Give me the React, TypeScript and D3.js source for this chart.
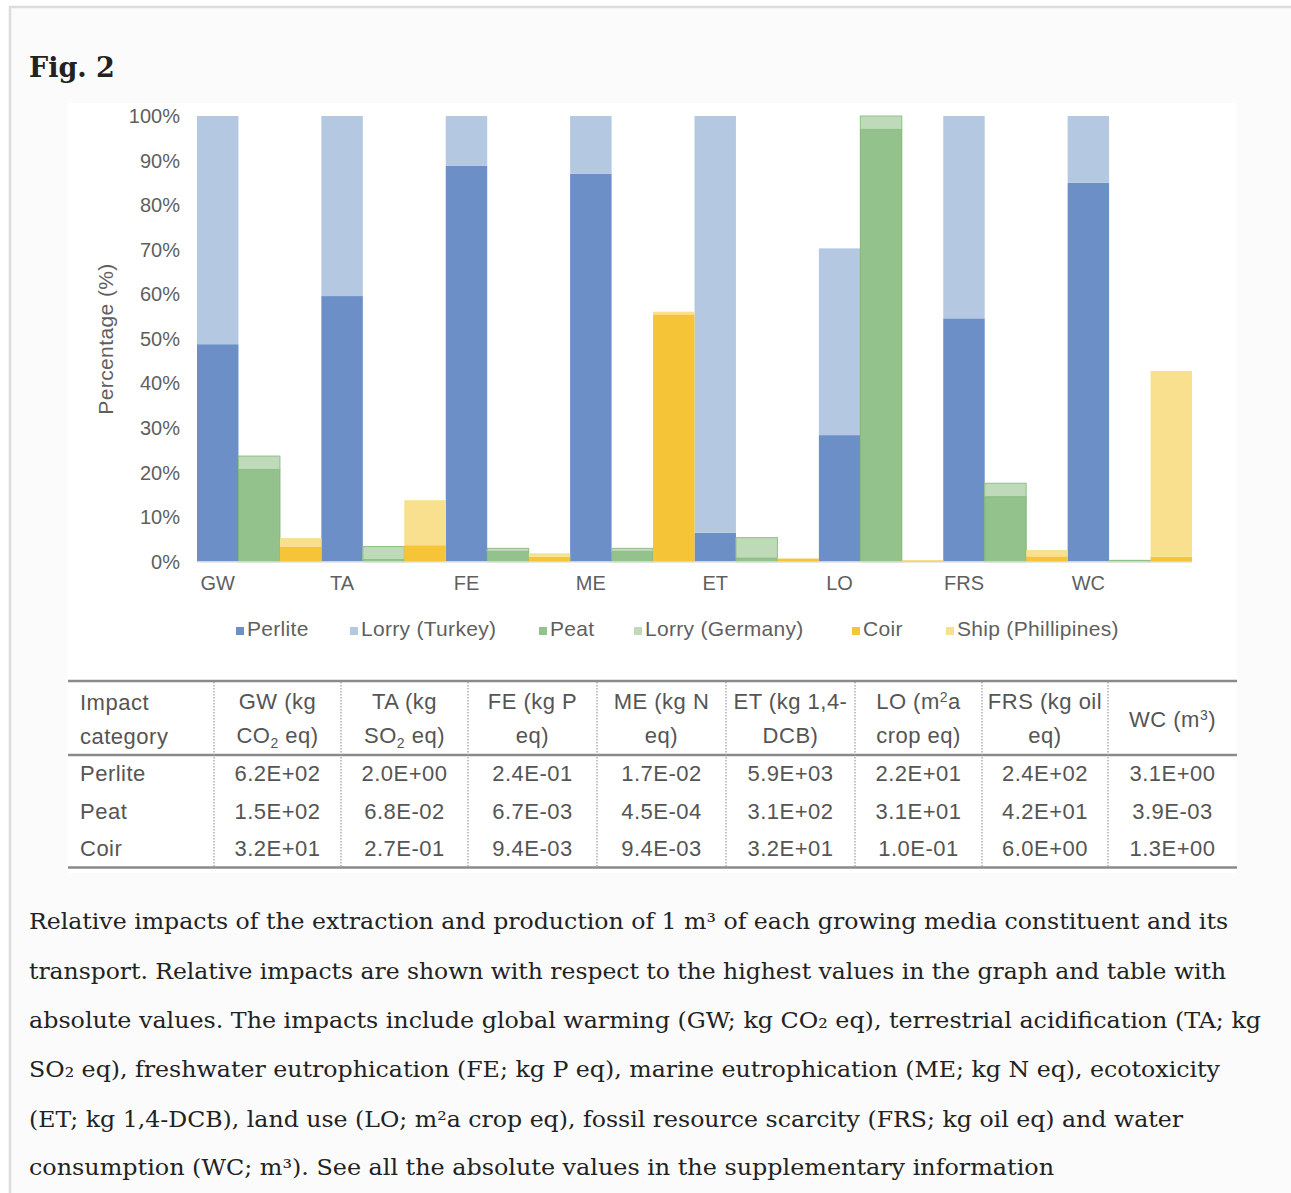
import React, { useEffect, useRef } from "react";
import * as d3 from "d3";

const categories = ["GW", "TA", "FE", "ME", "ET", "LO", "FRS", "WC"];
const seriesNames = ["Perlite", "Lorry (Turkey)", "Peat", "Lorry (Germany)", "Coir", "Ship (Phillipines)"];
const perlite = [48.8, 59.6, 88.8, 87.0, 6.5, 28.4, 54.6, 85.0];
const lorryTurkey = [51.2, 40.4, 11.2, 13.0, 93.5, 41.9, 45.4, 15.0];
const peat = [20.7, 0.5, 2.3, 2.3, 0.8, 97.0, 14.6, 0.2];
const lorryGermany = [3.0, 2.9, 0.7, 0.7, 4.6, 3.0, 3.0, 0.1];
const coir = [3.3, 3.7, 1.1, 55.5, 0.6, 0.3, 1.2, 1.1];
const ship = [2.0, 10.1, 0.8, 0.6, 0.2, 0.1, 1.4, 41.7];
const yTicks = [0, 10, 20, 30, 40, 50, 60, 70, 80, 90, 100];

const tableRows = ["Perlite", "Peat", "Coir"];
const tablePerlite = ["6.2E+02", "2.0E+00", "2.4E-01", "1.7E-02", "5.9E+03", "2.2E+01", "2.4E+02", "3.1E+00"];
const tablePeat = ["1.5E+02", "6.8E-02", "6.7E-03", "4.5E-04", "3.1E+02", "3.1E+01", "4.2E+01", "3.9E-03"];
const tableCoir = ["3.2E+01", "2.7E-01", "9.4E-03", "9.4E-03", "3.2E+01", "1.0E-01", "6.0E+00", "1.3E+00"];

const colors = ["#6b8fc6", "#b5c8e2", "#94c28c", "#bfdab9", "#f6c437", "#f8e08f"];
const strokes = ["none", "none", "#7fb577", "#8fc087", "none", "none"];

export default function App() {
  const ref = useRef<SVGSVGElement>(null);

  useEffect(() => {
    const svg = d3.select(ref.current);
    svg.selectAll("*").remove();
    const W = 1291, H = 1193;

    svg.append("rect").attr("x", 0).attr("y", 0).attr("width", W).attr("height", H).attr("fill", "#ffffff");
    svg.append("rect").attr("x", 10).attr("y", 7).attr("width", W + 10).attr("height", H + 10)
      .attr("fill", "#fbfbfb").attr("stroke", "#dcdcdc").attr("stroke-width", 2.5);
    svg.append("rect").attr("x", 67).attr("y", 103).attr("width", 1170).attr("height", 770).attr("fill", "#ffffff");

    svg.append("text").attr("x", 29).attr("y", 77).text("Fig. 2")
      .attr("font-family", "DejaVu Serif").attr("font-weight", "bold").attr("font-size", 27).attr("fill", "#222");

    const sans = "Liberation Sans, Arial, sans-serif";
    const gray = "#5f5f5f";

    const x0 = d3.scaleBand<string>().domain(categories).range([197, 1192]).paddingInner(0).paddingOuter(0);
    const x1 = d3.scaleBand<string>().domain(["perlite", "peat", "coir"]).range([0, x0.bandwidth()]).padding(0);
    const y = d3.scaleLinear().domain([0, 100]).range([561.7, 116]);

    const groups = [
      { key: "perlite", base: perlite, top: lorryTurkey, ci: 0 },
      { key: "peat", base: peat, top: lorryGermany, ci: 2 },
      { key: "coir", base: coir, top: ship, ci: 4 },
    ];

    const g = svg.append("g");
    groups.forEach((gr) => {
      categories.forEach((c, i) => {
        const xs = (x0(c) as number) + (x1(gr.key) as number);
        const w = x1.bandwidth();
        const b = gr.base[i];
        const t = gr.top[i];
        g.append("rect").attr("x", xs).attr("y", y(b)).attr("width", w).attr("height", y(0) - y(b))
          .attr("fill", colors[gr.ci]).attr("stroke", strokes[gr.ci]).attr("stroke-width", 1);
        g.append("rect").attr("x", xs).attr("y", y(b + t)).attr("width", w).attr("height", y(b) - y(b + t))
          .attr("fill", colors[gr.ci + 1]).attr("stroke", strokes[gr.ci + 1]).attr("stroke-width", 1);
      });
    });

    svg.append("line").attr("x1", 197).attr("x2", 1192).attr("y1", y(0)).attr("y2", y(0))
      .attr("stroke", "#d4d4d4").attr("stroke-width", 1.5);

    svg.append("g").selectAll("text").data(yTicks).join("text")
      .attr("x", 180).attr("y", (d) => y(d) + 7).attr("text-anchor", "end")
      .attr("font-family", sans).attr("font-size", 20).attr("fill", gray)
      .text((d) => `${d}%`);

    svg.append("text").attr("transform", `translate(113,339) rotate(-90)`).attr("text-anchor", "middle")
      .attr("font-family", sans).attr("font-size", 21).attr("fill", gray).attr("letter-spacing", 0.4)
      .text("Percentage (%)");

    svg.append("g").selectAll("text").data(categories).join("text")
      .attr("x", (d) => (x0(d) as number) + (x1("perlite") as number) + x1.bandwidth() / 2)
      .attr("y", 590).attr("text-anchor", "middle")
      .attr("font-family", sans).attr("font-size", 20).attr("fill", gray)
      .text((d) => d);

    const legendX = [236, 350, 539, 634, 852, 946];
    seriesNames.forEach((n, i) => {
      svg.append("rect").attr("x", legendX[i]).attr("y", 627).attr("width", 8).attr("height", 8).attr("fill", colors[i]);
      svg.append("text").attr("x", legendX[i] + 11).attr("y", 636)
        .attr("font-family", sans).attr("font-size", 21).attr("letter-spacing", 0.3).attr("fill", gray).text(n);
    });

    // table
    const tLeft = 68, tRight = 1237;
    const divs = [214, 341, 468, 597, 726, 855, 982, 1108];
    const colEdges = [...divs, tRight];
    const tg = svg.append("g");
    const tcol = "#555";
    [681, 755, 867.5].forEach((yy) => {
      tg.append("line").attr("x1", tLeft).attr("x2", tRight).attr("y1", yy).attr("y2", yy)
        .attr("stroke", "#8a8a8a").attr("stroke-width", 2.5);
    });
    divs.forEach((dx) => {
      tg.append("line").attr("x1", dx).attr("x2", dx).attr("y1", 682).attr("y2", 866)
        .attr("stroke", "#9a9a9a").attr("stroke-width", 1.2).attr("stroke-dasharray", "1.5,1.5");
    });
    const tf = (sel: any) => sel.attr("font-family", sans).attr("font-size", 22).attr("fill", tcol).attr("letter-spacing", 0.5);
    tf(tg.append("text").attr("x", 80).attr("y", 710).text("Impact"));
    tf(tg.append("text").attr("x", 80).attr("y", 744).text("category"));

    const headers: { l1: any[]; l2: any[] | null }[] = [
      { l1: ["GW (kg"], l2: ["CO", { sub: "2" }, " eq)"] },
      { l1: ["TA (kg"], l2: ["SO", { sub: "2" }, " eq)"] },
      { l1: ["FE (kg P"], l2: ["eq)"] },
      { l1: ["ME (kg N"], l2: ["eq)"] },
      { l1: ["ET (kg 1,4-"], l2: ["DCB)"] },
      { l1: ["LO (m", { sup: "2" }, "a"], l2: ["crop eq)"] },
      { l1: ["FRS (kg oil"], l2: ["eq)"] },
      { l1: ["WC (m", { sup: "3" }, ")"], l2: null },
    ];
    const addParts = (t: any, parts: any[]) => {
      let pending = 0;
      parts.forEach((p) => {
        if (typeof p === "string") {
          const ts = t.append("tspan").text(p);
          if (pending) { ts.attr("dy", pending); pending = 0; }
        } else if (p.sub) {
          t.append("tspan").attr("dy", 5).attr("font-size", 14).text(p.sub);
          pending = -5;
        } else if (p.sup) {
          t.append("tspan").attr("dy", -7).attr("font-size", 14).text(p.sup);
          pending = 7;
        }
      });
    };
    headers.forEach((h, i) => {
      const cx = (colEdges[i] + colEdges[i + 1]) / 2;
      if (h.l2) {
        const t1 = tf(tg.append("text").attr("x", cx).attr("y", 709).attr("text-anchor", "middle"));
        addParts(t1, h.l1);
        const t2 = tf(tg.append("text").attr("x", cx).attr("y", 743).attr("text-anchor", "middle"));
        addParts(t2, h.l2);
      } else {
        const t1 = tf(tg.append("text").attr("x", cx).attr("y", 727).attr("text-anchor", "middle"));
        addParts(t1, h.l1);
      }
    });
    const rowsData = [tablePerlite, tablePeat, tableCoir];
    const rowY = [781, 818.5, 855.5];
    tableRows.forEach((r, ri) => {
      tf(tg.append("text").attr("x", 80).attr("y", rowY[ri]).text(r));
      rowsData[ri].forEach((v, ci) => {
        const cx = (colEdges[ci] + colEdges[ci + 1]) / 2;
        tf(tg.append("text").attr("x", cx).attr("y", rowY[ri]).attr("text-anchor", "middle").text(v));
      });
    });

    // caption
    const capLines = [
      { s: "Relative impacts of the extraction and production of 1 m³ of each growing media constituent and its", w: 1199 },
      { s: "transport. Relative impacts are shown with respect to the highest values in the graph and table with", w: 1197 },
      { s: "absolute values. The impacts include global warming (GW; kg CO₂ eq), terrestrial acidification (TA; kg", w: 1232 },
      { s: "SO₂ eq), freshwater eutrophication (FE; kg P eq), marine eutrophication (ME; kg N eq), ecotoxicity", w: 1191 },
      { s: "(ET; kg 1,4-DCB), land use (LO; m²a crop eq), fossil resource scarcity (FRS; kg oil eq) and water", w: 1154 },
      { s: "consumption (WC; m³). See all the absolute values in the supplementary information", w: 1025 },
    ];
    const capY = [929, 978.5, 1028, 1077, 1127, 1175];
    capLines.forEach((l, i) => {
      svg.append("text").attr("x", 29).attr("y", capY[i])
        .attr("font-family", "'DejaVu Serif Condensed', 'DejaVu Serif'").attr("font-stretch", "condensed")
        .attr("font-size", 22.5).attr("fill", "#222")
        .attr("textLength", l.w).attr("lengthAdjust", "spacingAndGlyphs")
        .text(l.s);
    });
  }, []);

  return (
    <div style={{ position: "absolute", left: 0, top: 0 }}>
      <svg ref={ref} width={1291} height={1193} style={{ display: "block" }} />
    </div>
  );
}
